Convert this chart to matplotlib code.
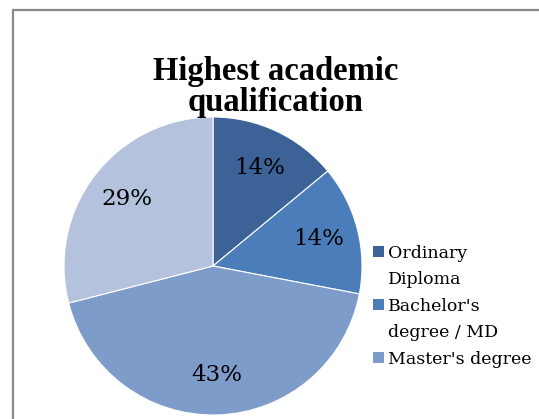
import matplotlib.pyplot as plt
from matplotlib.patches import Rectangle

categories = ["Ordinary\nDiploma", "Bachelor's\ndegree / MD", "Master's degree", "PhD"]
shares = [14, 14, 43, 29]
colors = ["#3C6297", "#4A7DB9", "#7E9CC9", "#B4C2DD"]

W, H = 539, 419
fig = plt.figure(figsize=(W / 100, H / 100), dpi=100)

# outer chart border (runs off the right and bottom edges)
fig.patches.append(Rectangle((13 / W, -0.05), 1.2, (H - 10) / H + 0.05,
                             transform=fig.transFigure, fill=False,
                             edgecolor="#8a8a8a", linewidth=1.6))

cx, cy, r = 213, 266, 149
ax = fig.add_axes([(cx - r) / W, (H - cy - r) / H, 2 * r / W, 2 * r / H])
wedges, texts, autotexts = ax.pie(shares, colors=colors, startangle=90, counterclock=False,
                                  autopct=lambda p: "%d%%" % round(p), pctdistance=0.73,
                                  radius=1, wedgeprops=dict(linewidth=0.8, edgecolor="white"),
                                  textprops=dict(family="DejaVu Serif", fontsize=16.5))
ax.set_xlim(-1, 1)
ax.set_ylim(-1, 1)
ax.set_aspect("equal")

fig.text(276 / W, 1 - 87 / H, "Highest academic\nqualification", ha="center", va="center",
         family="Liberation Serif", fontweight="bold", fontsize=23.5, linespacing=1.0)

# legend drawn by hand: square sits beside the first line of each entry,
# the chart cuts it off after the third entry
base = 258
step = 26
for label, col in zip(categories[:3], colors[:3]):
    lines = label.split("\n")
    fig.patches.append(Rectangle((373 / W, 1 - (base - 1) / H), 11 / W, 11 / H,
                                 transform=fig.transFigure, facecolor=col, edgecolor="none"))
    for ln in lines:
        fig.text(388 / W, 1 - base / H, ln, ha="left", va="baseline",
                 family="DejaVu Serif", fontsize=12.5)
        base += step
    base += 1

fig.savefig("out.png", dpi=100)
